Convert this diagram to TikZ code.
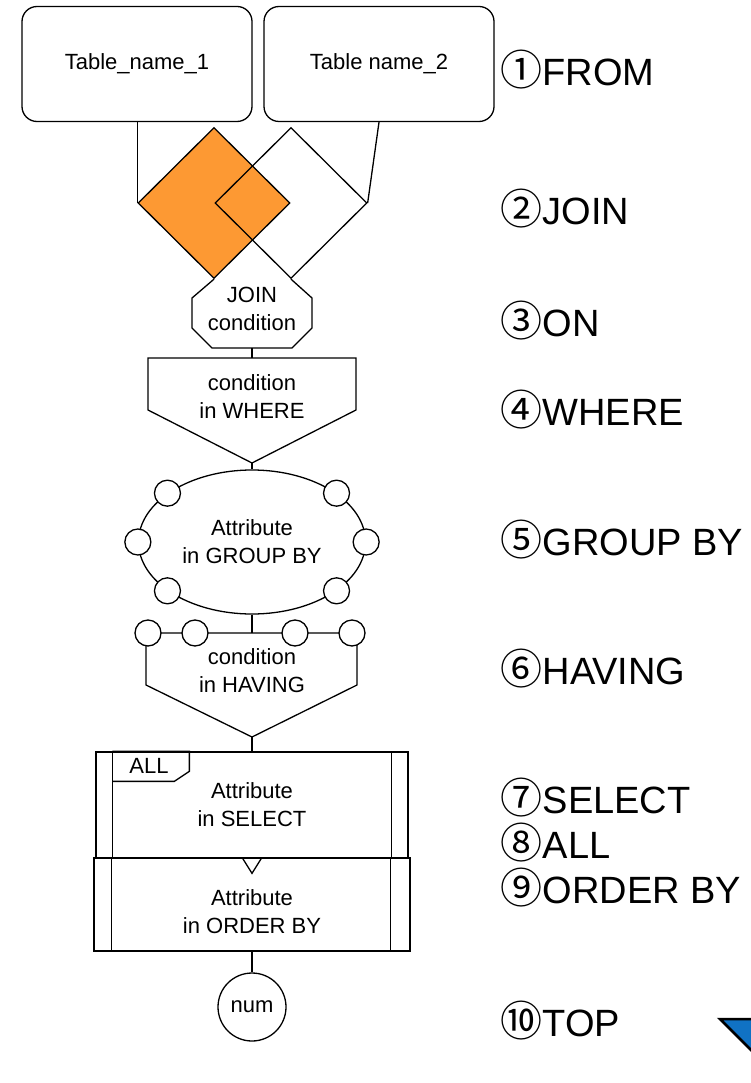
\documentclass[tikz,border=0pt]{standalone}
\usepackage{fontspec}
\setmainfont{Liberation Sans}
\newfontfamily\cjk{Noto Sans CJK JP}
\usetikzlibrary{shapes.geometric}
\definecolor{joinorange}{RGB}{253,153,51}
\definecolor{cornerblue}{RGB}{16,114,196}
\newcommand{\nb}[1]{{\cjk\fontsize{42}{45}\selectfont #1}}
\tikzstyle{txt} = [align=center, inner sep=0pt, font={\fontsize{22}{28}\selectfont}]
\tikzstyle{tbl} = [draw, txt, rounded corners=15pt, minimum width=230pt, minimum height=115pt]
\tikzstyle{joinset} = [draw, diamond, inner sep=0pt, minimum width=152pt, minimum height=151pt]
\tikzstyle{grp} = [draw, txt, ellipse, minimum width=227pt, minimum height=144pt]
\tikzstyle{port} = [draw, fill=white, circle, inner sep=0pt, minimum size=26pt]
\tikzstyle{proc} = [draw, fill=white, txt, rectangle]
\tikzstyle{clause} = [anchor=west, align=left, inner sep=0pt, font={\fontsize{38}{45}\selectfont}]

\begin{document}
\begin{tikzpicture}[x=1pt,y=-1pt,line width=1.3pt]
    \useasboundingbox (0,0) rectangle (751,1083);
    % tables
    \node[tbl](t1) at (137,64){Table\_name\_1};
    \node[tbl](t2) at (379,64){Table name\_2};
    % join
    \node[joinset,fill=joinorange](jl) at (214,203){};
    \node[joinset](jr) at (291,203){};
    \draw (jl.west |- t1.south)--(jl.west);
    \draw (t2.south)--(jr.east);
    % on
    \draw (jl.south)--(192,298)--(192,328)--(212,348)--(292,348)--(312,328)--(312,298)--(jr.south);
    \node[txt](jc) at (252,309){JOIN\\condition};
    \coordinate (jc-s) at (252,348);
    % where
    \coordinate (wh-n) at (252,358);
    \coordinate (wh-tip) at (252,463);
    \draw (148,358)--(356,358)--(356,410)--(wh-tip)--(148,410)--cycle;
    \node[txt](wh) at (252,397){condition\\in WHERE};
    \draw (jc-s)--(wh-n);
    % group by
    \node[grp](gb) at (252,542){Attribute\\in GROUP BY};
    \draw (wh-tip)--(gb.north);
    \foreach \a in {0,30,150,180,210,330}
        \node[port](gb-\a) at (gb.\a){};
    % having
    \coordinate (hv-n) at (252,633);
    \coordinate (hv-tip) at (252,737);
    \draw (146,633)--(146,685)--(hv-tip)--(357,685)--(357,633)--cycle;
    \foreach \n/\x in {1/148,2/195,3/295,4/352}
        \node[port](h\n) at (\x,633){};
    \node[txt](hv) at (252,671){condition\\in HAVING};
    \draw (gb.south)--(hv-n);
    % select, all, order by
    \node[proc,minimum width=312pt,minimum height=106pt](sel) at (252,805){Attribute\\in SELECT};
    \draw ([xshift=17pt]sel.north west)--([xshift=17pt]sel.south west);
    \draw ([xshift=-17pt]sel.north east)--([xshift=-17pt]sel.south east);
    \draw ([xshift=17pt]sel.north west)--++(77,0)--++(0,20)--++(-15,10)--++(-62,0);
    \node[txt](all) at (149,766){ALL};
    \draw (hv-tip)--(sel.north);
    \node[proc,minimum width=316pt,minimum height=93pt](ob) at (252,904.5){};
    \draw ([xshift=18pt]ob.north west)--([xshift=18pt]ob.south west);
    \draw ([xshift=-20pt]ob.north east)--([xshift=-20pt]ob.south east);
    \node[txt](obt) at (252,912){Attribute\\in ORDER BY};
    \draw ([xshift=-10pt]ob.north)--([yshift=-16pt]ob.north)--([xshift=10pt]ob.north);
    % top
    \node[draw,circle,txt,minimum size=68pt](num) at (252,1007){num};
    \draw (ob.south)--(num.north);
    % clause order
    \node[clause](c1) at (500,70){\nb{①}FROM};
    \node[clause](c2) at (500,209){\nb{②}JOIN};
    \node[clause](c3) at (500,321){\nb{③}ON};
    \node[clause](c4) at (500,410){\nb{④}WHERE};
    \node[clause](c5) at (500,540){\nb{⑤}GROUP BY};
    \node[clause](c6) at (500,669){\nb{⑥}HAVING};
    \node[clause](c7) at (500,843){\nb{⑦}SELECT\\\nb{⑧}ALL\\\nb{⑨}ORDER BY};
    \node[clause](c10) at (500,1021){\nb{⑩}TOP};
    \begin{scope}
        \clip (0,0) rectangle (751,1083);
        \draw[fill=cornerblue,line width=2.5pt] (720,1019)--(800,1019)--(800,1099)--cycle;
    \end{scope}
\end{tikzpicture}
\end{document}
